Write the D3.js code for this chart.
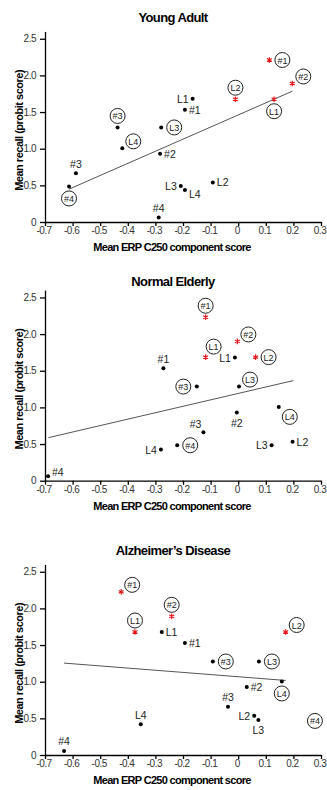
<!DOCTYPE html>
<meta charset="utf-8">
<style>
body { margin: 0; background: #fff; }
svg { font-family: "Liberation Sans", Arial, sans-serif; }
.axis path, .axis line { stroke: #000; stroke-width: 1.3; }
.axis text { font-size: 10px; fill: #333; letter-spacing: -0.5px; }
.title { font-size: 13px; font-weight: bold; letter-spacing: -0.6px; }
.xlab { font-size: 11px; font-weight: bold; letter-spacing: -0.7px; }
.ylab { font-size: 11px; font-weight: bold; letter-spacing: -0.5px; }
.lbl { font-size: 10.5px; fill: #222; }
.clbl { font-size: 9px; fill: #222; }
.fit { stroke: #555; stroke-width: 1; fill: none; }
</style>
<body>
<svg width="327" height="790"></svg>
<script src="https://cdn.jsdelivr.net/npm/d3@7"></script>
<script>

// tick values and labels (shared by all three panels)
var xTicks = [-0.7, -0.6, -0.5, -0.4, -0.3, -0.2, -0.1, 0, 0.1, 0.2, 0.3];
var xTickLabels = ["-0.7", "-0.6", "-0.5", "-0.4", "-0.3", "-0.2", "-0.1", "0", "0.1", "0.2", "0.3"];
var yTicks = [0, 0.5, 1.0, 1.5, 2.0, 2.5];
var yTickLabels = ["0", "0.5", "1.0", "1.5", "2.0", "2.5"];

var titles = ["Young Adult", "Normal Elderly", "Alzheimer\u2019s Disease"];

// Young Adult
var yaLabels = ["#1", "#2", "L2", "L1", "L1", "#1", "#3", "L3", "L4", "#2", "#3", "#4", "L3", "L4", "L2", "#4"];
var yaX = [0.113, 0.196, -0.01, 0.13, -0.165, -0.193, -0.437, -0.279, -0.42, -0.283, -0.588, -0.613, -0.208, -0.193, -0.092, -0.288];
var yaY = [2.21, 1.89, 1.675, 1.675, 1.68, 1.53, 1.29, 1.29, 1.005, 0.93, 0.666, 0.485, 0.49, 0.435, 0.54, 0.06];
var yaKind = ["star", "star", "star", "star", "dot", "dot", "dot", "dot", "dot", "dot", "dot", "dot", "dot", "dot", "dot", "dot"];
var yaCircled = [1, 1, 1, 1, 0, 0, 1, 1, 1, 0, 0, 1, 0, 0, 0, 0];
var yaPos = ["r", "ur", "t", "b", "l", "r", "t", "r", "ur", "r", "t", "b", "l", "dr", "r", "t"];
var yaFitX = [-0.613, 0.196], yaFitY = [0.448, 1.784];

// Normal Elderly
var neLabels = ["#1", "#2", "L1", "L2", "L1", "#1", "#3", "L3", "L4", "#2", "#3", "#4", "L4", "L3", "L2", "#4"];
var neX = [-0.118, -0.003, -0.118, 0.063, -0.012, -0.271, -0.15, 0.003, 0.147, -0.005, -0.126, -0.221, -0.28, 0.121, 0.197, -0.689];
var neY = [2.23, 1.90, 1.686, 1.686, 1.68, 1.535, 1.284, 1.284, 1.007, 0.929, 0.661, 0.484, 0.424, 0.484, 0.533, 0.06];
var neKind = ["star", "star", "star", "star", "dot", "dot", "dot", "dot", "dot", "dot", "dot", "dot", "dot", "dot", "dot", "dot"];
var neCircled = [1, 1, 1, 1, 0, 0, 1, 1, 1, 0, 0, 1, 0, 0, 0, 0];
var nePos = ["t", "ur", "ut", "r", "l", "t", "l", "ur", "dr", "b", "ul", "r", "l", "l", "r", "ur"];
var neFitX = [-0.688, 0.2], neFitY = [0.587, 1.366];

// Alzheimer's Disease
var adLabels = ["#1", "#2", "L1", "L2", "L1", "#1", "#3", "L3", "L4", "#2", "#3", "L2", "L3", "L4", "#4", "#4"];
var adX = [-0.424, -0.241, -0.374, 0.172, -0.277, -0.193, -0.092, 0.075, 0.158, 0.031, -0.037, 0.058, 0.073, -0.353, -0.631, 0.278];
var adY = [2.226, 1.892, 1.678, 1.678, 1.678, 1.528, 1.276, 1.276, 1.003, 0.926, 0.657, 0.534, 0.479, 0.42, 0.055, 0.465];
var adKind = ["star", "star", "star", "star", "dot", "dot", "dot", "dot", "dot", "dot", "dot", "dot", "dot", "dot", "dot", "none"];
var adCircled = [1, 1, 1, 1, 0, 0, 1, 1, 1, 0, 0, 0, 0, 0, 0, 1];
var adPos = ["ur", "t", "t", "ur", "r", "r", "r", "r", "b", "r", "t", "l", "b", "t", "t", "c"];
var adFitX = [-0.631, 0.172], adFitY = [1.254, 1.017];

var panels = [
  {labels: yaLabels, x: yaX, y: yaY, kind: yaKind, circ: yaCircled, pos: yaPos, fx: yaFitX, fy: yaFitY},
  {labels: neLabels, x: neX, y: neY, kind: neKind, circ: neCircled, pos: nePos, fx: neFitX, fy: neFitY},
  {labels: adLabels, x: adX, y: adY, kind: adKind, circ: adCircled, pos: adPos, fx: adFitX, fy: adFitY}
];

// layout: bottom of each panel's y axis, and title position
var baseY = [222, 480.7, 755],
    titleY = [17, 281.7, 550.7],
    left = 45, right = 321,
    unit = 73.3, plotH = 2.6 * unit;

// label offsets for plain text labels: [dx, dy, anchor]
var plainOff = {
  l: [-4, 0, "end"], r: [4, 0, "start"], t: [0, -9.5, "middle"], b: [0, 10, "middle"],
  ul: [-2, -8, "end"], ur: [4, -4, "start"], dr: [4, 4, "start"]
};
// circle centre offsets for circled labels
var circOff = {
  l: [-13.5, 0], r: [13, 0], t: [0, -11.5], b: [0, 12], ur: [11, -7], ut: [8, -10.5], dr: [11, 10], c: [0, 0]
};

var svg = d3.select("svg");
var x = d3.scaleLinear().domain([-0.7, 0.3]).range([left, right]);
var star = d3.symbol().type(d3.symbolAsterisk).size(22);

panels.forEach(function(p, k) {
  var y = d3.scaleLinear().domain([0, 2.6]).range([baseY[k], baseY[k] - plotH]);
  var g = svg.append("g");

  g.append("text").attr("class", "title")
    .attr("x", 173).attr("y", titleY[k])
    .attr("text-anchor", "middle").attr("dominant-baseline", "central")
    .text(titles[k]);

  // axes
  g.append("g").attr("class", "axis")
    .attr("transform", "translate(0," + baseY[k] + ")")
    .call(d3.axisBottom(x).tickValues(xTicks).tickSize(4).tickSizeOuter(0).tickPadding(1)
      .tickFormat(function(d, i) { return xTickLabels[i]; }))
    .selectAll("text").attr("dx", -1.5);

  g.append("g").attr("class", "axis")
    .attr("transform", "translate(" + left + ",0)")
    .call(d3.axisLeft(y).tickValues(yTicks).tickSize(5).tickSizeOuter(0).tickPadding(4)
      .tickFormat(function(d, i) { return yTickLabels[i]; }));

  g.append("text").attr("class", "xlab")
    .attr("x", 172).attr("y", baseY[k] + 25)
    .attr("text-anchor", "middle").attr("dominant-baseline", "central")
    .text("Mean ERP C250 component score");

  g.append("text").attr("class", "ylab")
    .attr("transform", "translate(19," + y(1.25) + ") rotate(-90)")
    .attr("text-anchor", "middle").attr("dominant-baseline", "central")
    .text("Mean recall (probit score)");

  // regression line
  g.append("path").attr("class", "fit")
    .attr("d", d3.line()([[x(p.fx[0]), y(p.fy[0])], [x(p.fx[1]), y(p.fy[1])]]));

  var idx = d3.range(p.labels.length);

  // markers
  idx.forEach(function(i) {
    var px = x(p.x[i]), py = y(p.y[i]);
    if (p.kind[i] === "dot") {
      g.append("circle").attr("cx", px).attr("cy", py).attr("r", 2).attr("fill", "#000");
    } else if (p.kind[i] === "star") {
      g.append("path").attr("d", star)
        .attr("transform", "translate(" + px + "," + py + ")")
        .attr("stroke", "#e8161b").attr("stroke-width", 1.2).attr("fill", "none");
    }
  });

  // labels
  idx.forEach(function(i) {
    var px = x(p.x[i]), py = y(p.y[i]);
    if (p.circ[i]) {
      var o = circOff[p.pos[i]];
      g.append("circle").attr("cx", px + o[0]).attr("cy", py + o[1]).attr("r", 7.5)
        .attr("fill", "#fff").attr("stroke", "#222").attr("stroke-width", 1);
      g.append("text").attr("class", "clbl")
        .attr("x", px + o[0]).attr("y", py + o[1] + 0.5)
        .attr("text-anchor", "middle").attr("dominant-baseline", "central")
        .text(p.labels[i]);
    } else {
      var q = plainOff[p.pos[i]];
      g.append("text").attr("class", "lbl")
        .attr("x", px + q[0]).attr("y", py + q[1])
        .attr("text-anchor", q[2]).attr("dominant-baseline", "central")
        .text(p.labels[i]);
    }
  });
});

</script>
</body>
